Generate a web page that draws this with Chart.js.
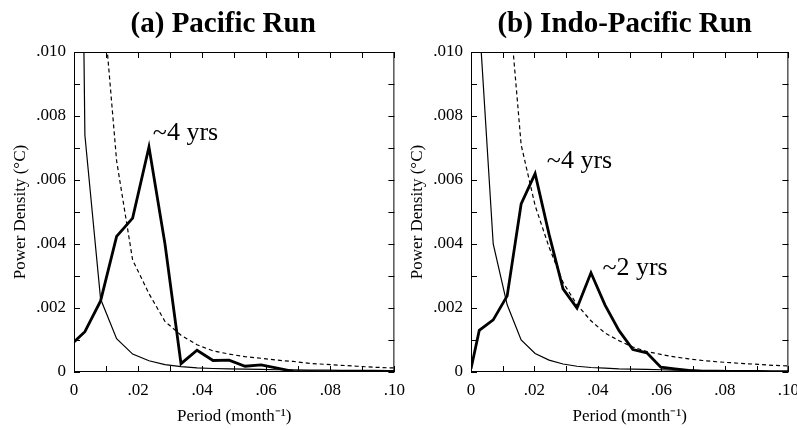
<!DOCTYPE html>
<html>
<head>
<meta charset="utf-8">
<script src="https://cdn.jsdelivr.net/npm/chart.js@4.4.1/dist/chart.umd.min.js"></script>
<style>
  html, body { margin: 0; padding: 0; background: #fff; }
  #wrap { position: relative; width: 797px; height: 430px; overflow: hidden; }
  canvas { position: absolute; top: 0; }
  #pacific { left: 0; }
  #indo { left: 397px; }
</style>
</head>
<body>
<div id="wrap">
  <canvas id="pacific" width="413" height="430"></canvas>
  <canvas id="indo" width="410" height="430"></canvas>
</div>
<script>
// frequencies (month^-1)
const freqA = [0, 0.0034, 0.0083, 0.0133, 0.0183, 0.0234, 0.0284, 0.0334, 0.0384, 0.0434, 0.0484,
  0.0534, 0.0584, 0.0634, 0.0684, 0.0734, 0.0784, 0.0834, 0.0884, 0.0934, 0.0984, 0.1034];
const pacificRun = [0.00094, 0.00126, 0.00222, 0.00424, 0.00481, 0.00703, 0.00400, 0.00026, 0.00068, 0.00036, 0.00037,
  0.00018, 0.00022, 0.00012, 0.00002, 0.00001, 0, 0, 0, 0, 0, 0];
const pacificNull = [0.037, 0.0074, 0.00228, 0.00104, 0.00056, 0.00035, 0.00023, 0.00017, 0.00013, 0.00011, 0.0001,
  0.00009, 0.00008, 0.00007, 0.00007, 0.00006, 0.00006, 0.00005, 0.00005, 0.00005, 0.00004, 0.00004];
const pacificConf = [null, 0.06, 0.0125, 0.0066, 0.0035, 0.00245, 0.00158, 0.00115, 0.00085, 0.00066, 0.00056,
  0.00048, 0.00043, 0.00037, 0.00033, 0.00027, 0.00024, 0.00021, 0.00018, 0.00015, 0.00013, 0.00012];

const freqB = [0, 0.0026, 0.0070, 0.0114, 0.0158, 0.0202, 0.0246, 0.0290, 0.0334, 0.0378, 0.0422, 0.0466,
  0.0510, 0.0554, 0.0598, 0.0642, 0.0686, 0.0730, 0.0774, 0.0818, 0.0862, 0.0906, 0.0950, 0.0994, 0.1038];
const indoRun = [0.0001, 0.0013, 0.00163, 0.00238, 0.00525, 0.0062, 0.0043, 0.0026, 0.002, 0.0031, 0.0021, 0.0013,
  0.0007, 0.0006, 0.00015, 0.0001, 0.00005, 0.00002, 0, 0, 0, 0, 0, 0, 0];
const indoNull = [0.05, 0.011, 0.004, 0.0021, 0.001, 0.00058, 0.00037, 0.00025, 0.00018, 0.00014, 0.00012, 0.0001,
  0.00009, 0.00008, 0.00007, 0.00006, 0.00006, 0.00005, 0.00005, 0.00004, 0.00004, 0.00004, 0.00003, 0.00003, 0.00003];
const indoConf = [null, 0.1, 0.03, 0.0122, 0.0071, 0.0052, 0.0039, 0.0028, 0.0021, 0.0016, 0.00122, 0.00098,
  0.00078, 0.00064, 0.00055, 0.00047, 0.00041, 0.00036, 0.00032, 0.00029, 0.00026, 0.00024, 0.00021, 0.00019, 0.00018];

// peak labels, anchored in data units (x, y of text baseline start)
const notesA = [{ text: '~4 yrs', x: 0.0246, y: 0.00724 }];
const notesB = [{ text: '~4 yrs', x: 0.0239, y: 0.00637 }, { text: '~2 yrs', x: 0.0414, y: 0.00302 }];

const SERIF = '"Liberation Serif", "Times New Roman", serif';

function pts(xs, ys) {
  return xs.map((x, i) => ({ x: x, y: ys[i] }));
}

function fmtX(v) {
  const n = Math.round(v * 100);
  if (n % 2 !== 0) return '';
  return n === 0 ? '0' : (n / 100).toFixed(2).replace(/^0/, '');
}
function fmtY(v) {
  const n = Math.round(v * 1000);
  if (n % 2 !== 0) return '';
  return n === 0 ? '0' : (n / 1000).toFixed(3).replace(/^0/, '');
}

// frame + inward ticks, panel title and peak labels
const panelDecor = {
  id: 'panelDecor',
  afterDraw(chart, args, opts) {
    const { ctx, chartArea: a, scales } = chart;
    const line = (x1, y1, x2, y2) => { ctx.beginPath(); ctx.moveTo(x1, y1); ctx.lineTo(x2, y2); ctx.stroke(); };
    ctx.save();
    ctx.strokeStyle = '#000';
    ctx.lineWidth = 1;
    ctx.strokeRect(a.left + 0.5, a.top + 0.5, a.width - 1, a.height - 1);
    scales.x.ticks.forEach(t => {
      const px = Math.round(scales.x.getPixelForValue(t.value)) + 0.5;
      line(px, a.bottom, px, a.bottom - 6);
      line(px, a.top, px, a.top + 6);
    });
    scales.y.ticks.forEach(t => {
      const py = Math.round(scales.y.getPixelForValue(t.value)) + 0.5;
      line(a.left, py, a.left + 6, py);
      line(a.right, py, a.right - 6, py);
    });
    ctx.fillStyle = '#000';
    ctx.font = 'bold 29px ' + SERIF;
    ctx.textAlign = 'center';
    ctx.textBaseline = 'alphabetic';
    ctx.fillText(opts.title, (a.left + a.right) / 2 + opts.titleShift, 32);
    ctx.font = '26px ' + SERIF;
    ctx.textAlign = 'left';
    opts.notes.forEach(n => {
      ctx.fillText(n.text, scales.x.getPixelForValue(n.x), scales.y.getPixelForValue(n.y));
    });
    ctx.restore();
  }
};

function makePanel(id, xs, run, nul, conf, title, notes, shift) {
  const ctx = document.getElementById(id).getContext('2d');
  return new Chart(ctx, {
    type: 'line',
    data: {
      datasets: [
        { data: pts(xs, nul), borderColor: '#000', borderWidth: 1.2, pointRadius: 0, tension: 0 },
        { data: pts(xs, conf), borderColor: '#000', borderWidth: 1.2, borderDash: [4, 3], pointRadius: 0, tension: 0 },
        { data: pts(xs, run), borderColor: '#000', borderWidth: 2.8, pointRadius: 0, tension: 0 }
      ]
    },
    options: {
      responsive: false,
      animation: false,
      devicePixelRatio: 1,
      layout: { padding: { left: 0, right: 5, top: 52, bottom: 0 } },
      plugins: {
        legend: { display: false },
        tooltip: { enabled: false },
        panelDecor: { title: title, notes: notes, titleShift: shift }
      },
      scales: {
        x: {
          type: 'linear', min: 0, max: 0.1,
          grid: { display: false, drawTicks: false },
          border: { display: false },
          ticks: { stepSize: 0.01, autoSkip: false, maxRotation: 0, padding: 8, color: '#000',
                   font: { family: SERIF, size: 17 }, callback: v => fmtX(v) },
          title: { display: true, text: 'Period (month⁻¹)', color: '#000',
                   font: { family: SERIF, size: 17 }, padding: { top: 0, bottom: 3 } },
          afterFit(s) { s.height = 58; }
        },
        y: {
          min: 0, max: 0.010,
          grid: { display: false, drawTicks: false },
          border: { display: false },
          ticks: { stepSize: 0.001, autoSkip: false, padding: 8, color: '#000',
                   font: { family: SERIF, size: 17 }, callback: v => fmtY(v) },
          title: { display: true, text: 'Power Density (°C)', color: '#000',
                   font: { family: SERIF, size: 17 }, padding: { top: 10, bottom: 0 } },
          afterFit(s) { s.width = 74; }
        }
      }
    },
    plugins: [panelDecor]
  });
}

makePanel('pacific', freqA, pacificRun, pacificNull, pacificConf, '(a) Pacific Run', notesA, -11);
makePanel('indo', freqB, indoRun, indoNull, indoConf, '(b) Indo-Pacific Run', notesB, -5);
</script>
</body>
</html>
